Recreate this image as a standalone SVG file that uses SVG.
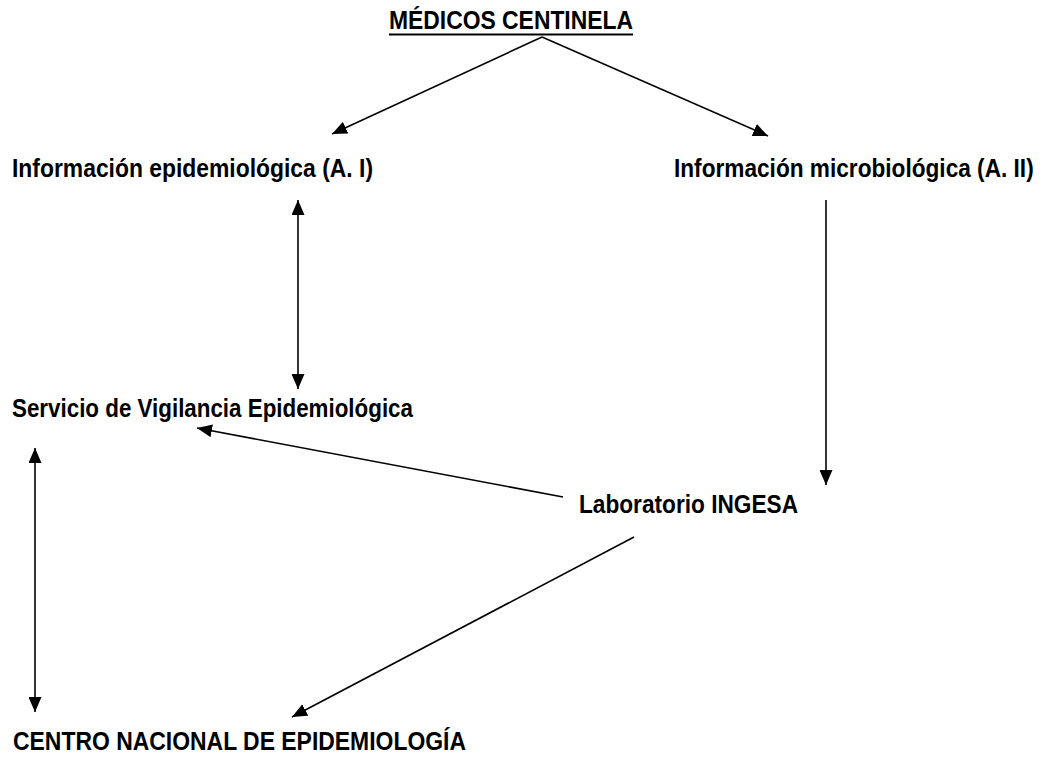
<svg xmlns="http://www.w3.org/2000/svg" width="1043" height="760" viewBox="0 0 1043 760">
<style>
text{font-family:"Liberation Sans",Arial,sans-serif;font-size:25px;font-weight:bold;fill:#000}
.c{stroke:#000;stroke-width:1.6;fill:none}
</style>
<defs>
<marker id="ah" markerUnits="userSpaceOnUse" markerWidth="16" markerHeight="13" refX="15" refY="6.5" orient="auto-start-reverse" viewBox="0 0 16 13">
<path d="M0,0 L15,6.5 L0,13 z" fill="#000"/>
</marker>
</defs>
<rect width="1043" height="760" fill="#fff"/>
<g id="medicos">
<text x="389" y="29" textLength="244" lengthAdjust="spacingAndGlyphs">MÉDICOS CENTINELA</text>
<line x1="389" y1="34.5" x2="633" y2="34.5" stroke="#000" stroke-width="2"/>
</g>
<g id="info-epi"><text x="12" y="177" textLength="361" lengthAdjust="spacingAndGlyphs">Información epidemiológica (A. I)</text></g>
<g id="info-micro"><text transform="translate(674,177) scale(0.906,1)" x="0" y="0" textLength="397" lengthAdjust="spacingAndGlyphs">Información microbiológica (A. II)</text></g>
<g id="servicio"><text x="12" y="417" textLength="401" lengthAdjust="spacingAndGlyphs">Servicio de Vigilancia Epidemiológica</text></g>
<g id="laboratorio"><text x="579" y="513" textLength="219" lengthAdjust="spacingAndGlyphs">Laboratorio INGESA</text></g>
<g id="centro"><text x="13" y="750" textLength="453" lengthAdjust="spacingAndGlyphs">CENTRO NACIONAL DE EPIDEMIOLOGÍA</text></g>
<g id="connectors">
<line class="c" x1="542" y1="37" x2="332" y2="134" marker-end="url(#ah)"/>
<line class="c" x1="542" y1="37" x2="768" y2="136" marker-end="url(#ah)"/>
<line class="c" x1="298" y1="200" x2="298" y2="389" marker-start="url(#ah)" marker-end="url(#ah)"/>
<line class="c" x1="826" y1="200" x2="826" y2="485" marker-end="url(#ah)"/>
<line class="c" x1="563" y1="497" x2="197" y2="428" marker-end="url(#ah)"/>
<line class="c" x1="35" y1="448" x2="35" y2="712" marker-start="url(#ah)" marker-end="url(#ah)"/>
<line class="c" x1="634" y1="537" x2="292" y2="717" marker-end="url(#ah)"/>
</g>
</svg>
